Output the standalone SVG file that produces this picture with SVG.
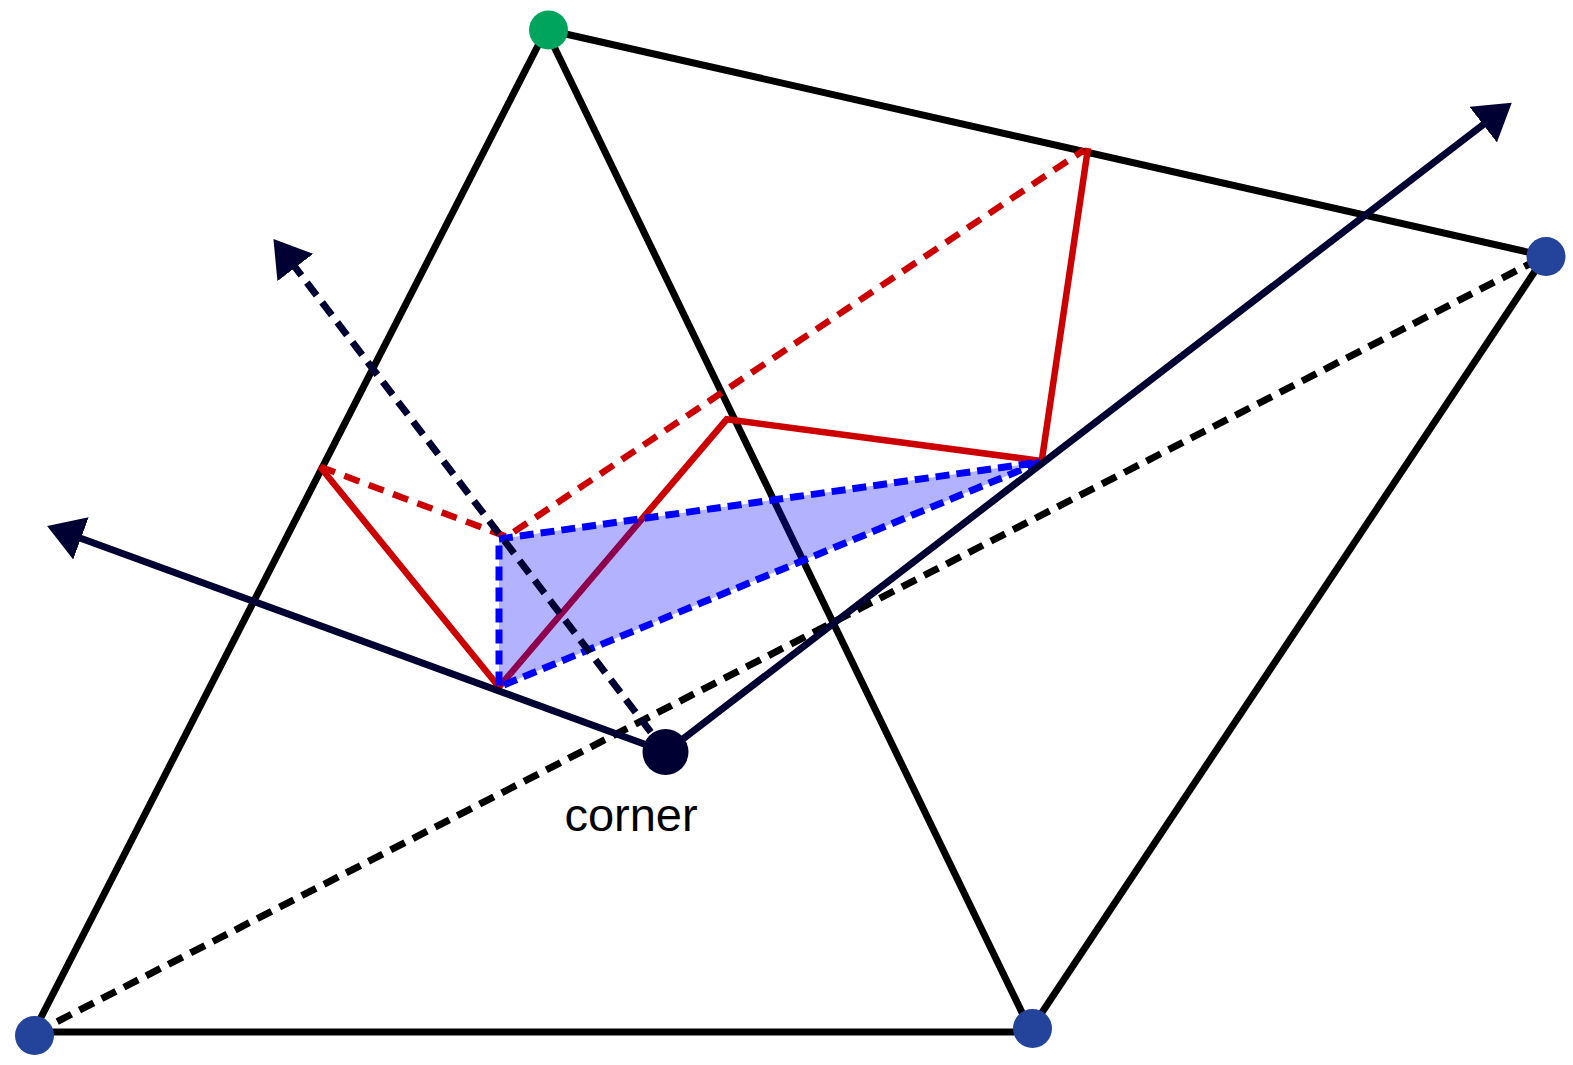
<svg xmlns="http://www.w3.org/2000/svg" width="1573" height="1065" viewBox="0 0 1573 1065">
<style>
.edge{stroke:#000;stroke-width:7;fill:none}
.edash{stroke:#000;stroke-width:7;fill:none;stroke-dasharray:16 9}
.red{stroke:#cc0000;stroke-width:6.5;fill:none}
.rdash{stroke:#cc0000;stroke-width:6.5;fill:none;stroke-dasharray:16 10}
.area{fill:#0000ff;fill-opacity:0.3;stroke:none}
.bdash{stroke:#0000ff;stroke-width:7;fill:none;stroke-dasharray:14 7}
.vec{stroke:#000033;stroke-width:7;fill:none}
.vdash{stroke:#000033;stroke-width:7;fill:none;stroke-dasharray:16 9}
.head{fill:#000033;stroke:none}
.vert{fill:#23449a}
.apex{fill:#00a45c}
.corner{fill:#000033}
.lbl{font-family:"Liberation Sans",Arial,sans-serif;font-size:47px;fill:#000;text-anchor:middle}
</style>
<defs>
<marker id="arr" viewBox="0 0 36 45" markerWidth="36" markerHeight="45" refX="1" refY="22.5" orient="auto" markerUnits="userSpaceOnUse">
<path class="head" d="M0,0 L36,22.5 L0,45 Z"/>
</marker>
</defs>
<g id="connectors">
<line class="edge" x1="546" y1="30" x2="33" y2="1033"/>
<line class="edge" x1="546" y1="30" x2="1030" y2="1029"/>
<line class="edge" x1="548" y1="30" x2="1545" y2="256"/>
<line class="edge" x1="35" y1="1032" x2="1031" y2="1032"/>
<line class="edge" x1="1031" y1="1029" x2="1545" y2="256"/>
<line class="edash" x1="35" y1="1033" x2="1545" y2="256"/>
<polyline class="red" points="320,466.7 499,687 726.7,419.3 1041.7,461 1088,148"/>
<polyline class="rdash" points="320,466.7 506.7,536.7 1084,150"/>
</g>
<g id="region">
<polygon class="area" points="499,539 1040,462 499,687"/>
<polygon class="bdash" points="499,539 1040,462 499,687"/>
</g>
<g id="vectors">
<line class="vec" x1="666" y1="752" x2="1484" y2="124" marker-end="url(#arr)"/>
<line class="vec" x1="666" y1="752" x2="80" y2="538" marker-end="url(#arr)"/>
<line class="vdash" x1="666" y1="752" x2="294.7" y2="266.7" marker-end="url(#arr)"/>
</g>
<g id="node-apex"><circle class="apex" cx="548.5" cy="30" r="19.5"/></g>
<g id="node-right"><circle class="vert" cx="1546" cy="256.5" r="19.5"/></g>
<g id="node-bottom-left"><circle class="vert" cx="34.5" cy="1035.5" r="19.5"/></g>
<g id="node-bottom-mid"><circle class="vert" cx="1032.5" cy="1028.5" r="19.5"/></g>
<g id="node-corner">
<circle class="corner" cx="665.5" cy="752" r="23"/>
<text class="lbl" x="631" y="831">corner</text>
</g>
</svg>
